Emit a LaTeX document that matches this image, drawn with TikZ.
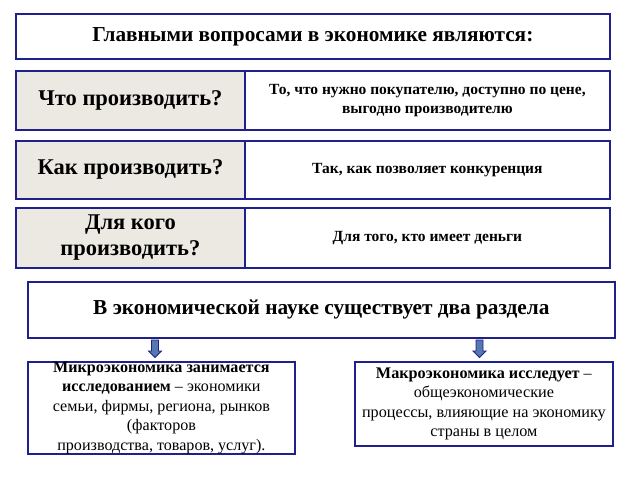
\documentclass[tikz,border=0pt]{standalone}
\usepackage{fontspec}
\setmainfont{Liberation Serif}
\definecolor{navy}{RGB}{32,32,140}
\definecolor{cellgray}{RGB}{236,233,226}
\definecolor{arrowblue}{RGB}{84,120,176}
\tikzset{
  box/.style={draw=navy, line width=1.8pt, fill=white, inner sep=0pt, align=center, anchor=north west},
  qcell/.style={box, fill=cellgray, font=\bfseries\fontsize{22.5}{26}\selectfont},
  acell/.style={box, font=\bfseries\fontsize{15.5}{19}\selectfont},
  blockarrow/.style={draw=navy, line width=0.8pt, fill=arrowblue, line join=miter},
}
\begin{document}
\begin{tikzpicture}[x=1pt,y=-1pt]
\useasboundingbox[fill=white] (0,0) rectangle (638,479);
\node[box, minimum width=594pt, minimum height=45pt, font=\bfseries\fontsize{21.3}{24}\selectfont] (title) at (15,13) {Главными вопросами в экономике являются:};
\node[qcell, minimum width=229pt, minimum height=59pt] (q1) at (15,70) {Что производить?};
\node[acell, minimum width=365pt, minimum height=59pt] (a1) at (244,70) {То, что нужно покупателю, доступно по цене,\\выгодно производителю};
\node[qcell, minimum width=229pt, minimum height=58pt] (q2) at (15,140) {Как производить?};
\node[acell, minimum width=365pt, minimum height=58pt] (a2) at (244,140) {Так, как позволяет конкуренция};
\node[qcell, minimum width=229pt, minimum height=60pt] (q3) at (15,207) {Для кого\\производить?};
\node[acell, minimum width=365pt, minimum height=60pt] (a3) at (244,207) {Для того, кто имеет деньги};
\node[box, minimum width=587pt, minimum height=56pt, font=\bfseries\fontsize{21.3}{24}\selectfont] (sec) at (27,281) {В экономической науке существует два раздела};
\node[box, minimum width=267pt, minimum height=91pt, font=\fontsize{16.1}{19.5}\selectfont] (micro) at (27,361) {\textbf{Микроэкономика занимается}\\\textbf{исследованием} – экономики\\семьи, фирмы, региона, рынков\\(факторов\\производства, товаров, услуг).};
\node[box, minimum width=258pt, minimum height=84pt, font=\fontsize{16.2}{19.3}\selectfont] (macro) at (354,361) {\textbf{Макроэкономика исследует} –\\общеэкономические\\процессы, влияющие на экономику\\страны в целом};
\coordinate (t1) at (155,340);
\coordinate (t2) at (479.5,340);
\draw[blockarrow] (t1) ++(-3.5,0) -- ++(0,11) -- ++(-3,0) -- ++(6.5,6.5) -- ++(6.5,-6.5) -- ++(-3,0) -- ++(0,-11) -- cycle;
\draw[blockarrow] (t2) ++(-3.5,0) -- ++(0,11) -- ++(-3,0) -- ++(6.5,6.5) -- ++(6.5,-6.5) -- ++(-3,0) -- ++(0,-11) -- cycle;
\end{tikzpicture}
\end{document}
